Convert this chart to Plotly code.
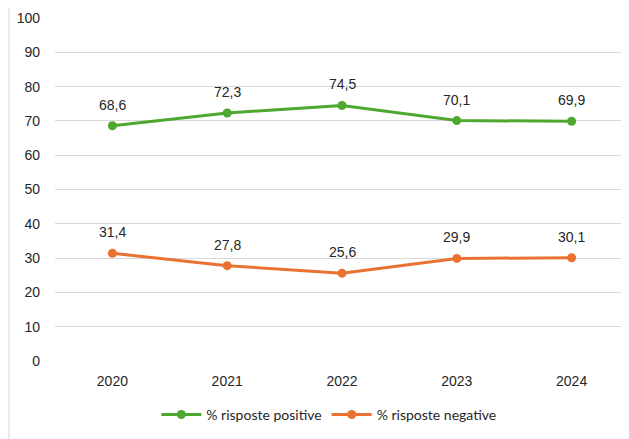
import plotly.graph_objects as go

years = ["2020", "2021", "2022", "2023", "2024"]
positive = [68.6, 72.3, 74.5, 70.1, 69.9]
negative = [31.4, 27.8, 25.6, 29.9, 30.1]
pos_labels = ["68,6", "72,3", "74,5", "70,1", "69,9"]
neg_labels = ["31,4", "27,8", "25,6", "29,9", "30,1"]

GREEN = "#4EA72E"
ORANGE = "#E97132"
FONT = "Arial, Liberation Sans, sans-serif"

fig = go.Figure()
fig.add_trace(go.Scatter(
    x=years, y=positive, mode="lines+markers", name="% risposte positive",
    line=dict(color=GREEN, width=3), marker=dict(color=GREEN, size=9),
))
fig.add_trace(go.Scatter(
    x=years, y=negative, mode="lines+markers", name="% risposte negative",
    line=dict(color=ORANGE, width=3), marker=dict(color=ORANGE, size=9),
))

annotations = []
for vals, labs in ((positive, pos_labels), (negative, neg_labels)):
    for i, (y, t) in enumerate(zip(vals, labs)):
        annotations.append(dict(x=i, y=y, text=t, showarrow=False, yshift=21,
                                xref="x", yref="y",
                                font=dict(family=FONT, size=14, color="#262626")))

fig.update_layout(
    width=621, height=431,
    margin=dict(l=47, r=0, t=10, b=78),
    paper_bgcolor="white", plot_bgcolor="white",
    font=dict(family=FONT, size=14, color="#262626"),
    showlegend=True,
    legend=dict(orientation="h", x=0.477, xanchor="center", y=-0.157, yanchor="middle",
                font=dict(family="Lato", size=14, color="#262626"), itemwidth=40),
    xaxis=dict(type="category", range=[-0.5, 4.5], showgrid=False, showline=False,
               zeroline=False, ticks="", tickfont=dict(size=14), automargin=False,
               ticklabelstandoff=10),
    yaxis=dict(range=[0, 100], dtick=10, showgrid=True, gridcolor="#D9D9D9",
               gridwidth=1, zeroline=False, showline=False, ticks="",
               ticklabelstandoff=14, tickfont=dict(size=14), automargin=False),
    annotations=annotations,
    shapes=[dict(type="line", xref="paper", yref="paper", x0=-46/574, x1=-46/574,
                 y0=-0.3, y1=1.06, line=dict(color="#D9D9D9", width=1))],
)

fig.write_html("out.html")
